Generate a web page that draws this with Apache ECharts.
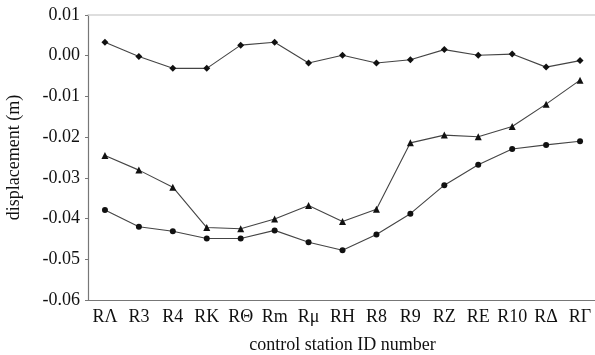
<!DOCTYPE html>
<html>
<head>
<meta charset="utf-8">
<script src="https://cdn.jsdelivr.net/npm/echarts@6/dist/echarts.min.js"></script>
<style>
  html, body { margin: 0; padding: 0; background: #fff; }
  #chart { width: 595px; height: 355px; }
</style>
</head>
<body>
<div id="chart"></div>
<script>
// Control stations along the x axis
const stations = ['RΛ', 'R3', 'R4', 'RK', 'RΘ', 'Rm', 'Rμ', 'RH', 'R8', 'R9', 'RZ', 'RE', 'R10', 'RΔ', 'RΓ'];

// Displacement (m) per station, three measurement sets
const seriesDiamond = [0.0033, -0.0002, -0.0031, -0.0031, 0.0026, 0.0033, -0.0018, 0.0001, -0.0018, -0.0010, 0.0015, 0.0001, 0.0004, -0.0028, -0.0012];
const seriesTriangle = [-0.0245, -0.0281, -0.0323, -0.0422, -0.0425, -0.0401, -0.0368, -0.0407, -0.0377, -0.0214, -0.0195, -0.0199, -0.0174, -0.0119, -0.0060];
const seriesCircle = [-0.0379, -0.0420, -0.0431, -0.0449, -0.0449, -0.0429, -0.0458, -0.0478, -0.0439, -0.0388, -0.0318, -0.0268, -0.0229, -0.0219, -0.0210];

// Y axis range and step
const yMin = -0.06, yMax = 0.01, yStep = 0.01;

const font = 'Liberation Serif';
const lineColor = '#444';

function makeSeries(data, symbol, size) {
  return {
    type: 'line',
    data: data,
    symbol: symbol,
    symbolSize: size,
    showSymbol: true,
    lineStyle: { color: lineColor, width: 1.1 },
    itemStyle: { color: '#111' },
    animation: false
  };
}

const chart = echarts.init(document.getElementById('chart'));
chart.setOption({
  backgroundColor: '#fff',
  grid: { left: 88, top: 15, width: 509, height: 285, containLabel: false, outerBoundsMode: 'none' },
  xAxis: [{
    type: 'category',
    data: stations,
    boundaryGap: true,
    name: 'control station ID number',
    nameLocation: 'middle',
    nameGap: 36,
    nameTextStyle: { fontFamily: font, fontSize: 18, color: '#111' },
    axisLine: { onZero: false, lineStyle: { color: '#777', width: 1.2 } },
    axisTick: { show: false },
    axisLabel: { fontFamily: font, fontSize: 18, color: '#111', margin: 8, interval: 0 },
    splitLine: { show: false }
  }, {
    type: 'category',
    data: stations,
    position: 'top',
    axisLine: { onZero: false, lineStyle: { color: '#d4d4d4', width: 1.5 } },
    axisTick: { show: false },
    axisLabel: { show: false },
    splitLine: { show: false }
  }],
  yAxis: {
    type: 'value',
    min: yMin,
    max: yMax,
    interval: yStep,
    name: 'displacement (m)',
    nameLocation: 'middle',
    nameGap: 65,
    nameRotate: 90,
    nameTextStyle: { fontFamily: font, fontSize: 18, color: '#111' },
    axisLine: { show: true, onZero: false, lineStyle: { color: '#777', width: 1.2 } },
    axisTick: { show: true, length: 3, lineStyle: { color: '#777' } },
    axisLabel: {
      fontFamily: font, fontSize: 18, color: '#111', margin: 8,
      formatter: v => v.toFixed(2)
    },
    splitLine: { show: false }
  },
  series: [
    makeSeries(seriesDiamond, 'diamond', 7),
    makeSeries(seriesTriangle, 'triangle', 7),
    makeSeries(seriesCircle, 'circle', 6)
  ]
});
</script>
</body>
</html>
